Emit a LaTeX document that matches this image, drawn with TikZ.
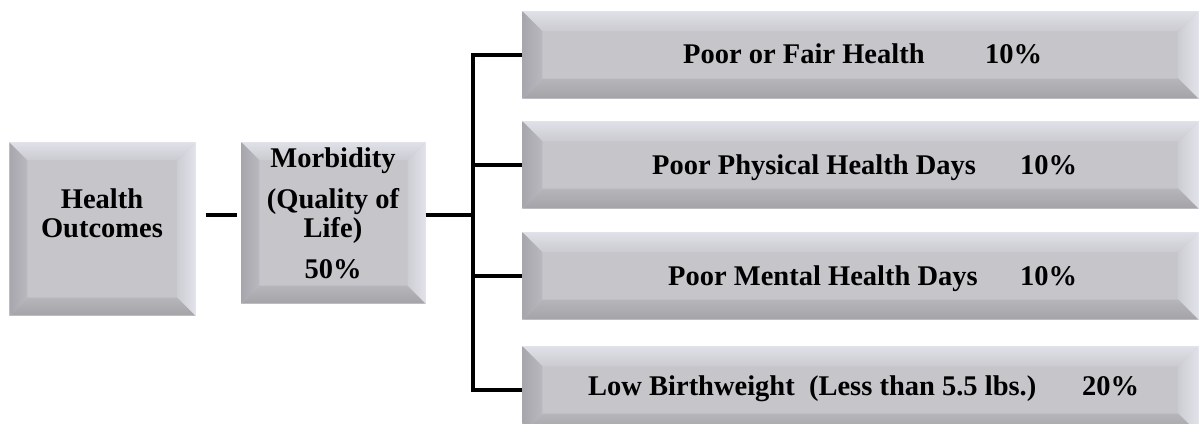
\documentclass[tikz,border=0pt]{standalone}
\usepackage{fontspec}
\setmainfont{Liberation Serif}
\usetikzlibrary{calc}
\definecolor{face}{HTML}{C5C5CA}
\definecolor{glow}{HTML}{E8E8EE}
\definecolor{topA}{HTML}{E0E0E8}
\definecolor{topB}{HTML}{CACAD0}
\definecolor{botA}{HTML}{B6B6BA}
\definecolor{botB}{HTML}{A4A4A8}
\definecolor{lefA}{HTML}{A6A6AC}
\definecolor{lefB}{HTML}{B8B8BE}
\definecolor{rigA}{HTML}{CDCDD4}
\definecolor{rigB}{HTML}{E2E2EA}
\tikzset{
  bbase/.style={rectangle, inner sep=0pt, fill=face, draw=glow, line width=1.2pt},
  conn/.style={line width=4pt, black, line join=miter},
  lbl/.style={inner sep=0pt, anchor=base, font=\fontsize{28.5}{30}\selectfont\bfseries},
  lblw/.style={lbl, anchor=base west},
}
% #1 name, #2 x1, #3 y1, #4 x2, #5 y2, #6 bevel
\newcommand\bevbox[6]{%
  \node[bbase, minimum width={(#4)-(#2)}, minimum height={(#5)-(#3)}] (#1) at ({((#2)+(#4))/2},{((#3)+(#5))/2}) {};
  \shade[top color=topA, bottom color=topB] (#1.north west) -- (#1.north east) -- ($(#1.north east)+(-#6,#6)$) -- ($(#1.north west)+(#6,#6)$) -- cycle;
  \shade[top color=botA, bottom color=botB] (#1.south west) -- (#1.south east) -- ($(#1.south east)+(-#6,-#6)$) -- ($(#1.south west)+(#6,-#6)$) -- cycle;
  \shade[left color=lefA, right color=lefB] (#1.north west) -- (#1.south west) -- ($(#1.south west)+(#6,-#6)$) -- ($(#1.north west)+(#6,#6)$) -- cycle;
  \shade[left color=rigA, right color=rigB] (#1.north east) -- (#1.south east) -- ($(#1.south east)+(-#6,-#6)$) -- ($(#1.north east)+(-#6,#6)$) -- cycle;
}
\begin{document}
\begin{tikzpicture}[x=1pt,y=-1pt]
\clip (0,0) rectangle (1201,423);
\fill[white] (0,0) rectangle (1201,423);

\bevbox{ho}{10}{143}{195}{315}{18}
\bevbox{mor}{242}{143}{425}{303}{18}
\bevbox{b1}{523}{12}{1198}{98}{20}
\bevbox{b2}{523}{122}{1198}{208}{20}
\bevbox{b3}{523}{233}{1198}{319}{20}
\bevbox{b4}{523}{347}{1198}{433}{20}

% labels
\node[lbl] (hoA) at (102,208) {Health};
\node[lbl] (hoB) at (102,237) {Outcomes};
\node[lbl] (morA) at (333,167) {Morbidity};
\node[lbl] (morB) at (333,208) {(Quality of};
\node[lbl] (morC) at (333,237) {Life)};
\node[lbl] (morD) at (333,278) {50\%};

\node[lblw] (t1) at (683,63) {Poor or Fair Health};
\node[lblw] (p1) at (985,63) {10\%};
\node[lblw] (t2) at (652,174) {Poor Physical Health Days};
\node[lblw] (p2) at (1020,174) {10\%};
\node[lblw] (t3) at (668,285) {Poor Mental Health Days};
\node[lblw] (p3) at (1020,285) {10\%};
\node[lblw] (t4) at (588,395) {Low Birthweight\ \ (Less than 5.5 lbs.)};
\node[lblw] (p4) at (1082,395) {20\%};

% connectors
\coordinate (jn) at (473,215);
\draw[conn, shorten <=10pt, shorten >=4pt] (ho.east |- jn) -- (mor.west |- jn);
\draw[conn] (mor.east |- jn) -- (jn);
\draw[conn] (b1.west) -- (b1.west -| jn) -- (b4.west -| jn) -- (b4.west);
\draw[conn] (b2.west -| jn) -- (b2.west);
\draw[conn] (b3.west -| jn) -- (b3.west);
\end{tikzpicture}
\end{document}
